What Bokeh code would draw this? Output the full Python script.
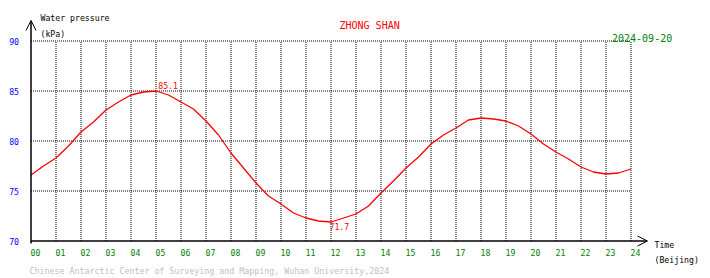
from bokeh.plotting import figure
from bokeh.models import Range1d, FixedTicker, Label, Arrow, OpenHead
from bokeh.embed import file_html
from bokeh.resources import INLINE

# ---- data ----
hours = [0, 0.5, 1, 1.5, 2, 2.5, 3, 3.5, 4, 4.5, 5, 5.5, 6, 6.5, 7, 7.5, 8, 8.5,
         9, 9.5, 10, 10.5, 11, 11.5, 12, 12.5, 13, 13.5, 14, 14.5, 15, 15.5, 16,
         16.5, 17, 17.5, 18, 18.5, 19, 19.5, 20, 20.5, 21, 21.5, 22, 22.5, 23,
         23.5, 24]
pressure = [76.6, 77.5, 78.3, 79.5, 80.9, 81.9, 83.1, 83.9, 84.6, 84.9, 85.0,
            84.6, 83.9, 83.2, 82.0, 80.6, 78.8, 77.3, 75.8, 74.5, 73.7, 72.8,
            72.3, 72.0, 71.9, 72.3, 72.7, 73.5, 74.8, 76.0, 77.3, 78.4, 79.7,
            80.6, 81.3, 82.1, 82.3, 82.2, 82.0, 81.5, 80.7, 79.7, 78.9, 78.2,
            77.4, 76.9, 76.7, 76.8, 77.2]
hour_ticks = list(range(25))
hour_labels = ["%02d" % h for h in hour_ticks]
y_ticks = [70, 75, 80, 85, 90]
max_label = "85.1"
min_label = "71.7"
station = "ZHONG SHAN"
date_text = "2024-09-20"
footer = "Chinese Antarctic Center of Surveying and Mapping, Wuhan University,2024"

MONO = "DejaVu Sans Mono"
X0, Y0 = 0, 70     # plot area corner
X1, Y1 = 24, 90

# frame covers the whole canvas; 25 px per hour, 10 px per kPa
p = figure(width=710, height=278,
           x_range=Range1d(-30.5 / 25, (710 - 30.5) / 25),
           y_range=Range1d(70 - (278 - 240.5) / 10, 70 + 240.5 / 10),
           output_backend="svg", toolbar_location=None,
           min_border=0, min_border_left=0, min_border_right=0,
           min_border_top=0, min_border_bottom=0)
p.outline_line_color = None
p.background_fill_color = "white"
p.border_fill_color = "white"
p.xgrid.visible = False
p.ygrid.visible = False

# dotted grid inside the plot area
grid_x = hour_ticks[1:]
grid_y = y_ticks[1:]
p.segment(x0=grid_x, y0=[Y0] * len(grid_x), x1=grid_x, y1=[Y1] * len(grid_x),
          line_color="black", line_width=1, line_dash="1 1")
p.segment(x0=[X0] * len(grid_y), y0=grid_y, x1=[X1] * len(grid_y), y1=grid_y,
          line_color="black", line_width=1, line_dash="1 1")

# x axis: labels start at the tick
offs = 0.18
xax = p.xaxis[0]
xax.fixed_location = Y0
xax.ticker = FixedTicker(ticks=[h + offs for h in hour_ticks])
xax.major_label_overrides = {h + offs: lbl for h, lbl in zip(hour_ticks, hour_labels)}
xax.axis_line_color = None
xax.major_tick_line_color = None
xax.minor_tick_line_color = None
xax.major_tick_out = 0
xax.major_tick_in = 0
xax.major_label_standoff = 8
xax.major_label_text_font = MONO
xax.major_label_text_font_size = "8.2px"
xax.major_label_text_color = "#008000"

yax = p.yaxis[0]
yax.fixed_location = X0
yax.ticker = FixedTicker(ticks=y_ticks)
yax.axis_line_color = None
yax.major_tick_line_color = None
yax.minor_tick_line_color = None
yax.major_tick_out = 0
yax.major_tick_in = 0
yax.major_label_standoff = 12
yax.major_label_text_font = MONO
yax.major_label_text_font_size = "8.2px"
yax.major_label_text_color = "#0000ff"

# axis arrows
p.add_layout(Arrow(end=OpenHead(size=10, line_color="black", line_width=1),
                   x_start=X0, y_start=69.75, x_end=X0, y_end=92.05,
                   line_color="black", line_width=1.5))
p.add_layout(Arrow(end=OpenHead(size=10, line_color="black", line_width=1),
                   x_start=X0, y_start=Y0, x_end=24.66, y_end=Y0,
                   line_color="black", line_width=1.5))

# data line
p.line(hours, pressure, line_color="red", line_width=1.3)

def lab(x, y, text, color="black", size="8.2px", font=MONO):
    p.add_layout(Label(x=x, y=y, text=text, text_color=color, text_font=font,
                       text_font_size=size, text_align="left",
                       text_baseline="middle"))

lab(0.38, 92.35, "Water pressure")
lab(0.38, 90.7, "(kPa)")
lab(12.34, 91.55, station, color="red", size="10px")
lab(23.24, 90.35, date_text, color="#008000", size="10px")
lab(5.09, 85.55, max_label, color="red")
lab(11.94, 71.5, min_label, color="red")
lab(24.94, 69.6, "Time")
lab(24.94, 68.1, "(Beijing)")
lab(-0.06, 67.05, footer, color="#c0c0c0", size="8.3px")

open("out.html", "w").write(file_html(p, INLINE))
